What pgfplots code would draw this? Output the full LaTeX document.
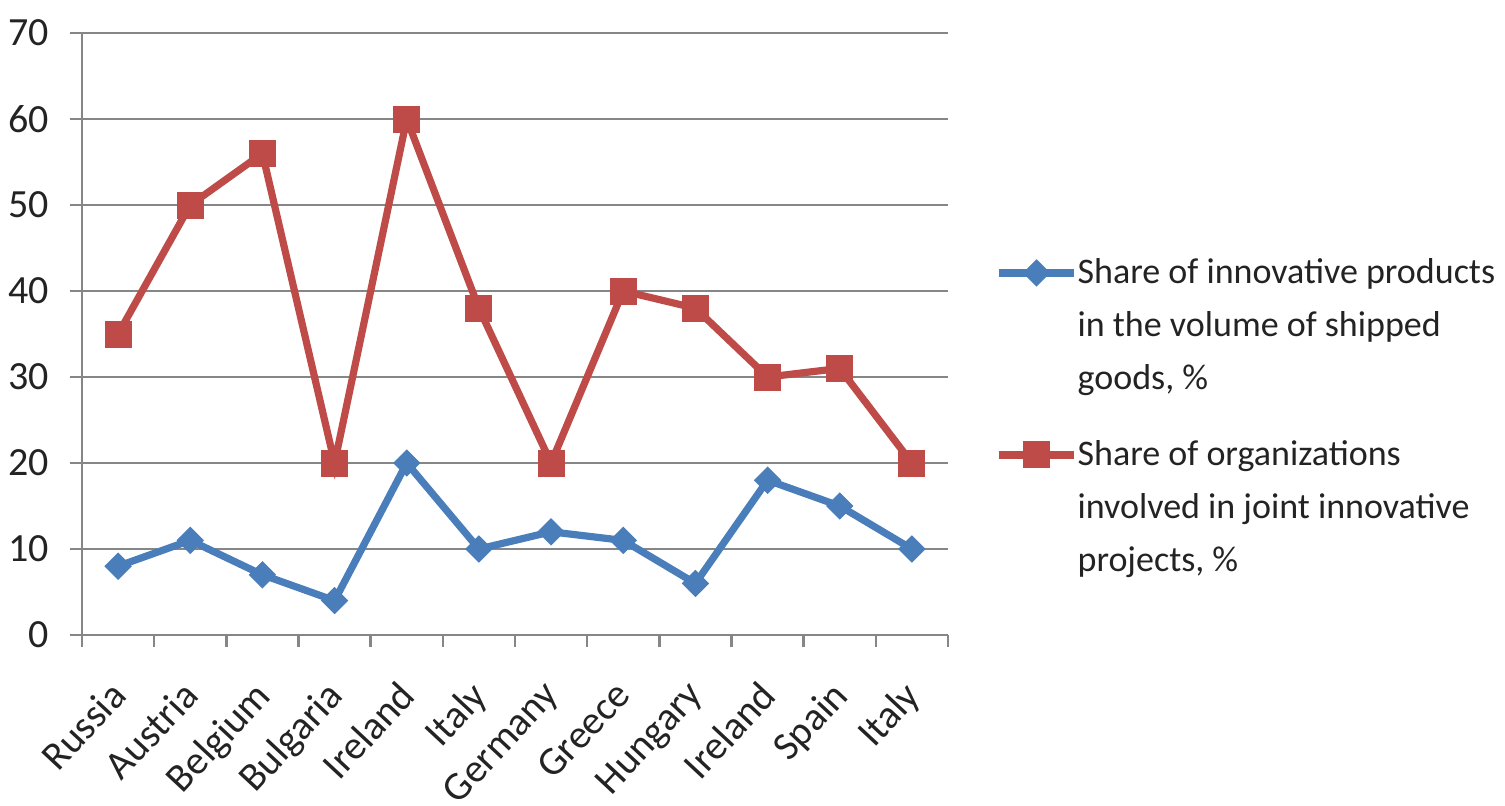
\documentclass[border=0pt]{standalone}
\usepackage{fontspec}
\setmainfont{Carlito}
\usepackage{pgfplots}
\pgfplotsset{compat=1.18}
\definecolor{serA}{RGB}{74,126,187}
\definecolor{serB}{RGB}{190,75,72}
\definecolor{gridc}{RGB}{134,134,134}
\definecolor{txt}{RGB}{35,35,35}

\begin{document}
\begin{tikzpicture}
\useasboundingbox (-41pt,-85pt) rectangle (711.5pt,317.5pt);
\begin{axis}[
    at={(0pt,0pt)}, anchor=south west,
    width=433pt, height=301pt, scale only axis,
    xmin=0.5, xmax=12.5, ymin=0, ymax=70,
    axis x line*=bottom, axis y line*=left,
    axis line style={draw=gridc, line width=1.2pt, -},
    xtick={0.5,1.5,...,12.5},
    x tick label as interval,
    xticklabels={Russia,Austria,Belgium,Bulgaria,Ireland,Italy,Germany,Greece,Hungary,Ireland,Spain,Italy},
    xticklabel style={rotate=47, anchor=north east, xshift=-11.5pt, yshift=-3.7pt,
        font=\fontsize{20}{22}\selectfont, text=txt},
    ytick={0,10,...,70},
    yticklabel style={xshift=-7pt, font=\fontsize{20}{22}\selectfont, text=txt},
    /pgf/number format/assume math mode=true,
    ymajorgrids, grid style={draw=gridc, line width=1.2pt},
    tick align=outside, major tick length=6pt,
    tick style={draw=gridc, line width=1.2pt},
    legend style={at={(1.0543,0.632)}, anchor=north west, draw=none, fill=none,
        inner sep=0pt, font=\fontsize{18}{26.5}\selectfont, text=txt,
        row sep=20pt, column sep=-2pt, cells={align=left, anchor=west}},
    legend image code/.code={
        \draw[mark repeat=2, mark phase=2, #1] plot coordinates {(0pt,26.5pt) (18.75pt,26.5pt) (37.5pt,26.5pt)};
    },
]
\addplot[serA, line width=3.6pt, mark=square*, mark size=4.6pt,
    mark options={solid, rotate=45, fill=serA, draw=serA, line width=0.5pt}]
    coordinates {(1,8) (2,11) (3,7) (4,4) (5,20) (6,10) (7,12) (8,11) (9,6) (10,18) (11,15) (12,10)};
\addlegendentry{Share of innovative products\\in the volume of shipped\\goods, \%}
\addplot[serB, line width=3.6pt, mark=square*, mark size=6.5pt,
    mark options={solid, fill=serB, draw=serB, line width=0.5pt}]
    coordinates {(1,35) (2,50) (3,56) (4,20) (5,60) (6,38) (7,20) (8,40) (9,38) (10,30) (11,31) (12,20)};
\addlegendentry{Share of organizations\\involved in joint innovative\\projects, \%}
\end{axis}
\end{tikzpicture}
\end{document}
